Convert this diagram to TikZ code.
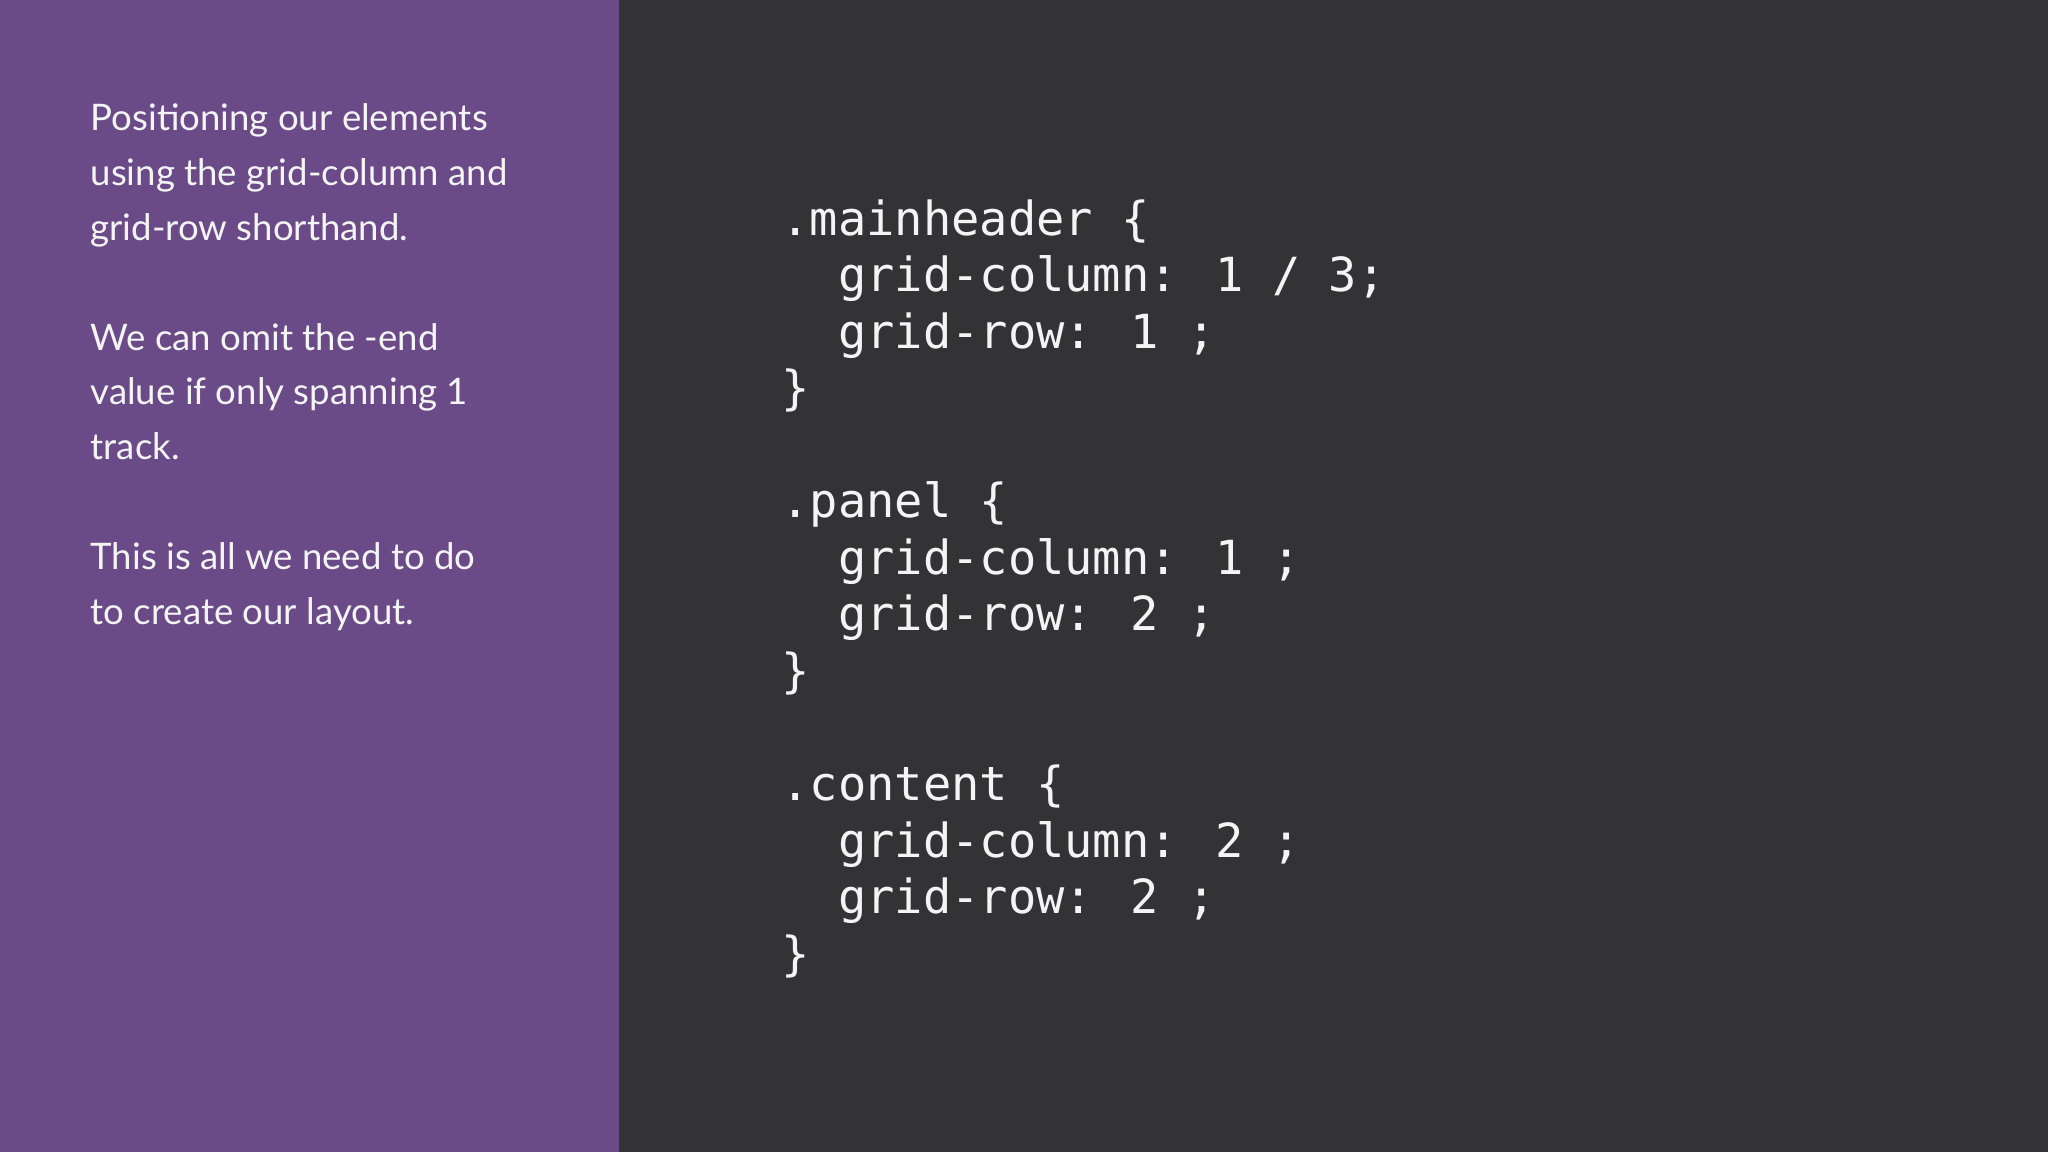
\documentclass[tikz,border=0pt]{standalone}
\usepackage{fontspec}
\setmainfont{Lato}
\newfontfamily\codefont{DejaVu Sans Mono}
\definecolor{purp}{HTML}{6A4A87}
\definecolor{dark}{HTML}{333335}
\definecolor{txt}{HTML}{F4F4F4}
\tikzset{
  side/.style={anchor=base west,inner sep=0pt,text=txt,font=\fontsize{14}{21}\selectfont},
  code/.style={anchor=base west,inner sep=0pt,text=txt,font=\codefont\fontsize{18}{21}\selectfont}
}
\begin{document}
\begin{tikzpicture}[x=1pt,y=1pt]
\useasboundingbox (0,0) rectangle (784,441);
\fill[dark] (0,0) rectangle (784,441);
\fill[purp] (0,0) rectangle (237,441);
\foreach \t [count=\i] in {Positioning our elements,using the grid-column and,grid-row shorthand.}
  \node[side] (a\i) at (34.5,{441-(100+42*(\i-1))/2}) {\t};
\foreach \t [count=\i] in {We can omit the -end,value if only spanning 1,track.}
  \node[side] (b\i) at (34.5,{441-(268+42*(\i-1))/2}) {\t};
\foreach \t [count=\i] in {This is all we need to do,to create our layout.}
  \node[side] (c\i) at (34.5,{441-(436+42*(\i-1))/2}) {\t};
\def\L#1#2{\node[code] (l#1) at (299,{441-(180+43.3*#1)/2}) {\obeyspaces#2};}
\L{0}{.mainheader \{}
\L{1}{\ \ grid-column: 1 / 3;}
\L{2}{\ \ grid-row: 1 ;}
\L{3}{\}}
\L{5}{.panel \{}
\L{6}{\ \ grid-column: 1 ;}
\L{7}{\ \ grid-row: 2 ;}
\L{8}{\}}
\L{10}{.content \{}
\L{11}{\ \ grid-column: 2 ;}
\L{12}{\ \ grid-row: 2 ;}
\L{13}{\}}
\end{tikzpicture}
\end{document}
